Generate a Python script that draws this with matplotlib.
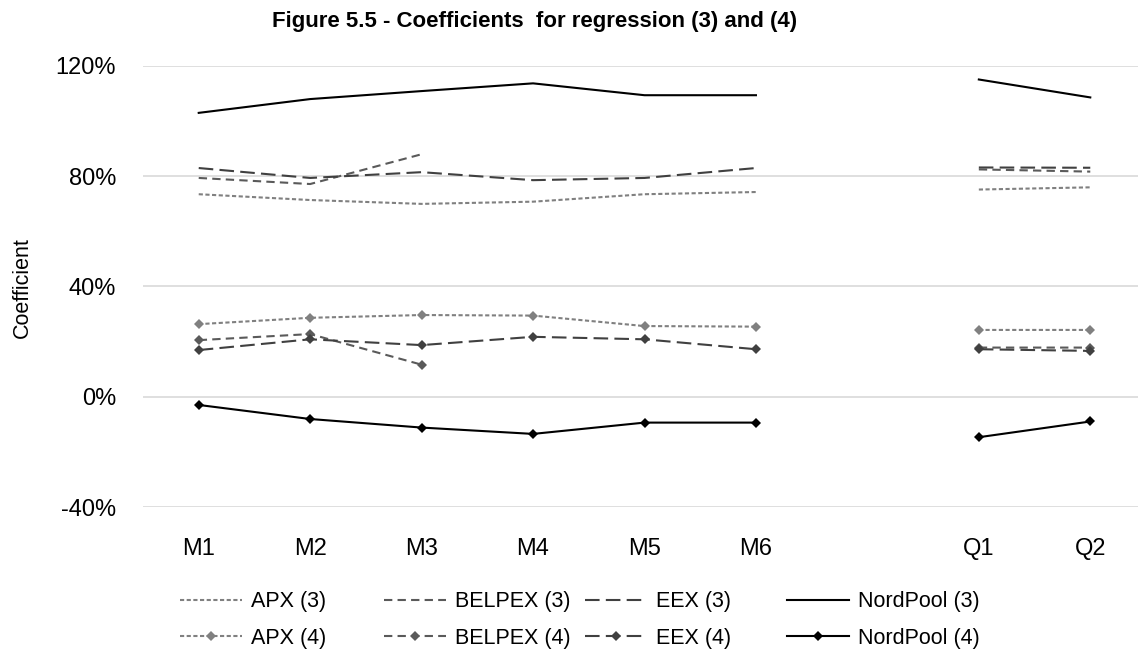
import numpy as np
import matplotlib
matplotlib.use("Agg")
import matplotlib.pyplot as plt
from matplotlib.ticker import FuncFormatter

plt.rcParams['font.family'] = ['Liberation Sans', 'DejaVu Sans']

# categories (one empty slot between the monthly and quarterly contracts)
categories = ['M1', 'M2', 'M3', 'M4', 'M5', 'M6', '', 'Q1', 'Q2']

# regression (3), coefficients in %
apx_3 = [73.4, 71.3, 69.9, 70.7, 73.4, 74.2, np.nan, 75.1, 75.9]
belpex_3 = [79.3, 77.1, 87.9, np.nan, np.nan, np.nan, np.nan, 82.4, 81.6]
eex_3 = [82.9, 79.3, 81.4, 78.5, 79.3, 82.9, np.nan, 83.1, 83.0]
nordpool_3 = [102.9, 107.9, 110.8, 113.6, 109.3, 109.3, np.nan, 115.0, 108.5]

# regression (4), coefficients in %
apx_4 = [26.3, 28.6, 29.6, 29.4, 25.6, 25.4, np.nan, 24.2, 24.2]
belpex_4 = [20.5, 22.7, 11.6, np.nan, np.nan, np.nan, np.nan, 17.8, 17.8]
eex_4 = [16.9, 20.8, 18.7, 21.7, 20.8, 17.2, np.nan, 17.2, 16.6]
nordpool_4 = [-3.0, -8.1, -11.2, -13.5, -9.4, -9.4, np.nan, -14.7, -9.0]


def plot_series(ax, x, y, label, color, dashes, marker=None):
    """One line, NaN values leave gaps."""
    line, = ax.plot(x, np.array(y, dtype=float), color=color, lw=1.5, label=label,
                    marker=marker, markersize=5, markeredgewidth=0)
    if dashes is not None:
        line.set_dashes(dashes)
    return line


fig = plt.figure(figsize=(11.38, 6.62), dpi=100)
ax = fig.add_axes([143 / 1138, 1 - 507 / 662, 1003 / 1138, (507 - 65.7) / 662])

x = np.arange(len(categories))

grey_apx = '#808080'
grey_bel = '#5a5a5a'
grey_eex = '#404040'
black = '#000000'

pairs = [
    (plot_series(ax, x, apx_3, 'APX (3)', grey_apx, (2, 1.2)),
     plot_series(ax, x, apx_4, 'APX (4)', grey_apx, (2, 1.2), 'D')),
    (plot_series(ax, x, belpex_3, 'BELPEX (3)', grey_bel, (4, 2.5)),
     plot_series(ax, x, belpex_4, 'BELPEX (4)', grey_bel, (4, 2.5), 'D')),
    (plot_series(ax, x, eex_3, 'EEX (3)', grey_eex, (7, 3)),
     plot_series(ax, x, eex_4, 'EEX (4)', grey_eex, (7, 3), 'D')),
    (plot_series(ax, x, nordpool_3, 'NordPool (3)', black, None),
     plot_series(ax, x, nordpool_4, 'NordPool (4)', black, None, 'D')),
]

ax.set_xlim(-0.5, len(categories) - 0.5)
ax.set_ylim(-40, 120)
ax.set_yticks([-40, 0, 40, 80, 120])
ax.yaxis.set_major_formatter(FuncFormatter(lambda v, _: f'{v:.0f}%'))
ax.set_xticks(x)
ax.set_xticklabels(categories)
ax.tick_params(length=0, labelsize=17)
ax.tick_params(axis='y', pad=19.5)
ax.tick_params(axis='x', pad=22)
ax.grid(axis='y', color='#d9d9d9', lw=1.2)
ax.set_axisbelow(True)
for s in ax.spines.values():
    s.set_visible(False)

fig.text(22 / 1138, 1 - 288 / 662, 'Coefficient', rotation=90,
         ha='center', va='center', fontsize=15.5)
fig.text(272 / 1138, 1 - 22 / 662,
         'Figure 5.5 - Coefficients  for regression (3) and (4)',
         ha='left', va='center', fontsize=16, fontweight='bold')

# legend: one column per market, evenly spaced like the original
legend_x = [180, 384, 585, 787]
for (h3, h4), lx in zip(pairs, legend_x):
    fig.legend(handles=[h3, h4], loc='center left',
               bbox_to_anchor=(lx / 1138, 1 - 620 / 662), frameon=False,
               fontsize=15.5, handlelength=2.9, handletextpad=0.4,
               labelspacing=0.7, borderpad=0, borderaxespad=0)

fig.savefig('out.png', dpi=100)
